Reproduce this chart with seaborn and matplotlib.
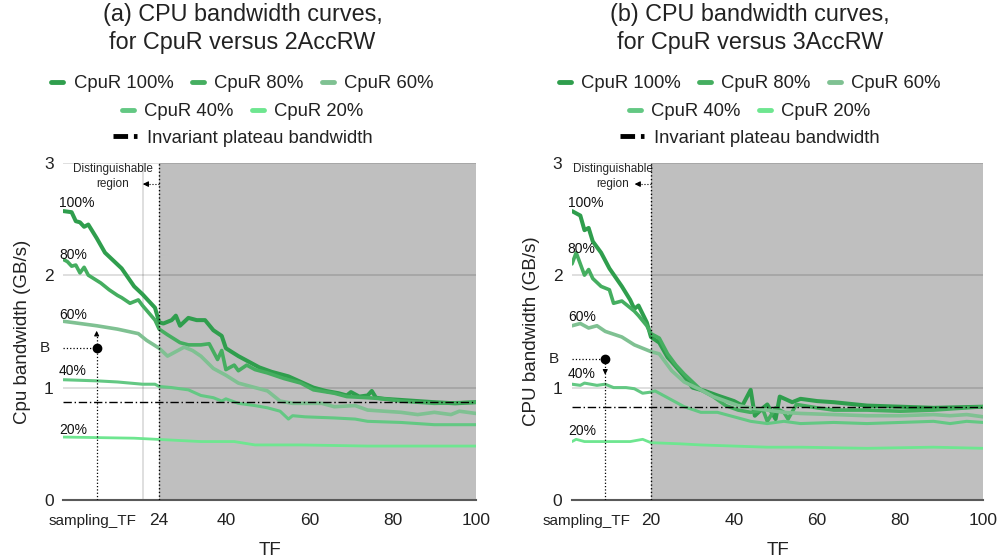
import numpy as np
import pandas as pd
import matplotlib
matplotlib.use("Agg")
import matplotlib.pyplot as plt
from matplotlib.lines import Line2D
import seaborn as sns

# ---- data (TF, bandwidth GB/s) ----
LEVELS = ["100%", "80%", "60%", "40%", "20%"]

# (a) CpuR versus 2AccRW
a_tf_100 = [1, 3, 4, 5, 6, 7, 9, 11, 15, 18, 20, 23, 24, 25, 27, 28, 29, 31, 33, 35, 37, 39, 40, 43, 45,
            48, 51, 55, 58, 61, 64, 67, 69, 70, 72, 74, 75, 76, 78, 82, 86, 90, 95, 100]
a_bw_100 = [2.57, 2.56, 2.48, 2.47, 2.43, 2.45, 2.33, 2.2, 2.06, 1.9, 1.83, 1.71, 1.58, 1.57, 1.6, 1.64,
            1.55, 1.62, 1.6, 1.6, 1.51, 1.46, 1.35, 1.28, 1.24, 1.18, 1.14, 1.1, 1.05, 1.0, 0.97, 0.95,
            0.93, 0.96, 0.92, 0.93, 0.97, 0.91, 0.9, 0.89, 0.88, 0.87, 0.86, 0.87]
a_tf_80 = [1, 2, 3, 4, 5, 6, 7, 10, 12, 14, 15, 17, 19, 20, 23, 24, 26, 29, 31, 34, 36, 38, 39, 40, 42,
           43, 45, 47, 50, 54, 58, 61, 66, 69, 74, 78, 82, 90, 100]
a_bw_80 = [2.14, 2.12, 2.08, 2.09, 2.02, 2.07, 2.0, 1.93, 1.87, 1.82, 1.8, 1.75, 1.78, 1.73, 1.6, 1.52,
           1.47, 1.4, 1.38, 1.38, 1.39, 1.25, 1.33, 1.16, 1.2, 1.15, 1.2, 1.16, 1.13, 1.08, 1.04, 0.98,
           0.95, 0.92, 0.91, 0.9, 0.88, 0.86, 0.87]
a_tf_60 = [1, 9, 14, 19, 21, 24, 26, 27, 30, 32, 34, 37, 40, 43, 47, 50, 53, 56, 59, 63, 66, 71, 74, 78,
           82, 86, 90, 94, 96, 100]
a_bw_60 = [1.59, 1.55, 1.52, 1.48, 1.42, 1.35, 1.28, 1.3, 1.36, 1.33, 1.28, 1.17, 1.11, 1.04, 1.0, 0.97,
           0.88, 0.86, 0.86, 0.86, 0.83, 0.84, 0.8, 0.79, 0.78, 0.76, 0.78, 0.76, 0.79, 0.77]
a_tf_40 = [1, 9, 14, 20, 23, 24, 27, 31, 34, 37, 39, 40, 43, 47, 50, 53, 55, 56, 59, 66, 71, 74, 82, 90, 100]
a_bw_40 = [1.07, 1.06, 1.05, 1.03, 1.03, 1.01, 1.0, 0.98, 0.93, 0.91, 0.88, 0.9, 0.86, 0.84, 0.82, 0.79,
           0.72, 0.75, 0.74, 0.73, 0.72, 0.7, 0.69, 0.67, 0.67]
a_tf_20 = [1, 18, 34, 42, 47, 58, 74, 90, 100]
a_bw_20 = [0.56, 0.55, 0.52, 0.52, 0.49, 0.49, 0.48, 0.48, 0.48]

# (b) CpuR versus 3AccRW
b_tf_100 = [1, 3, 4, 5, 6, 8, 10, 13, 15, 16, 17, 19, 20, 22, 24, 25, 28, 30, 33, 36, 40, 42, 44, 45, 47,
            48, 50, 51, 54, 56, 60, 64, 72, 80, 88, 100]
b_bw_100 = [2.57, 2.53, 2.4, 2.42, 2.3, 2.2, 2.06, 1.9, 1.78, 1.7, 1.73, 1.58, 1.45, 1.4, 1.27, 1.23, 1.1,
            1.0, 0.97, 0.93, 0.88, 0.84, 0.98, 0.75, 0.82, 0.85, 0.72, 0.92, 0.87, 0.9, 0.88, 0.87, 0.84,
            0.83, 0.82, 0.83]
b_tf_80 = [1, 2, 4, 5, 6, 8, 10, 11, 13, 16, 17, 19, 20, 22, 24, 26, 28, 32, 35, 38, 41, 44, 47, 48, 50,
           52, 53, 55, 60, 64, 72, 80, 88, 96, 100]
b_bw_80 = [2.1, 2.2, 2.0, 2.05, 1.97, 1.9, 1.87, 1.75, 1.77, 1.68, 1.64, 1.55, 1.48, 1.44, 1.3, 1.2, 1.12,
           0.98, 0.92, 0.84, 0.8, 0.78, 0.8, 0.7, 0.82, 0.78, 0.72, 0.85, 0.82, 0.8, 0.8, 0.79, 0.8, 0.82,
           0.83]
b_tf_60 = [1, 3, 5, 7, 9, 13, 16, 18, 20, 22, 25, 28, 32, 35, 38, 41, 44, 48, 52, 56, 64, 72, 80, 88, 92,
           96, 100]
b_bw_60 = [1.55, 1.57, 1.53, 1.55, 1.5, 1.45, 1.38, 1.35, 1.32, 1.3, 1.15, 1.05, 0.98, 0.92, 0.88, 0.84,
           0.82, 0.8, 0.78, 0.77, 0.76, 0.75, 0.75, 0.76, 0.75, 0.76, 0.74]
b_tf_40 = [1, 3, 4, 7, 9, 11, 14, 16, 18, 20, 21, 24, 28, 32, 36, 40, 44, 48, 52, 56, 64, 72, 80, 88, 92,
           96, 100]
b_bw_40 = [1.03, 1.02, 1.04, 1.02, 1.03, 1.0, 1.0, 0.99, 0.95, 0.96, 0.97, 0.91, 0.83, 0.78, 0.78, 0.74,
           0.7, 0.68, 0.7, 0.68, 0.69, 0.68, 0.69, 0.7, 0.68, 0.7, 0.69]
b_tf_20 = [1, 2, 4, 15, 18, 20, 27, 32, 40, 48, 56, 72, 88, 100]
b_bw_20 = [0.52, 0.54, 0.52, 0.52, 0.54, 0.51, 0.5, 0.49, 0.48, 0.47, 0.47, 0.46, 0.47, 0.46]

a_plateau = 0.87
b_plateau = 0.825
a_split_tf = 24
b_split_tf = 20
sampling_tf = 9
a_b_value, a_b_target = 1.355, 1.53
b_b_value, b_b_target = 1.25, 1.06

a_xticks = [24, 40, 60, 80, 100]
b_xticks = [20, 40, 60, 80, 100]

COLORS = {"100%": "#2f9e4d", "80%": "#45ae60", "60%": "#7fc192", "40%": "#63c883", "20%": "#6ee690"}
WIDTHS = {"100%": 2.9, "80%": 2.6, "60%": 2.6, "40%": 2.2, "20%": 2.0}


def to_frame(tfs, bws):
    parts = []
    for lvl, tf, bw in zip(LEVELS, tfs, bws):
        parts.append(pd.DataFrame({"TF": tf, "bw": bw, "level": lvl}))
    return pd.concat(parts, ignore_index=True)


df_a = to_frame([a_tf_100, a_tf_80, a_tf_60, a_tf_40, a_tf_20],
                [a_bw_100, a_bw_80, a_bw_60, a_bw_40, a_bw_20])
df_b = to_frame([b_tf_100, b_tf_80, b_tf_60, b_tf_40, b_tf_20],
                [b_bw_100, b_bw_80, b_bw_60, b_bw_40, b_bw_20])

sns.set_style("white")
plt.rcParams["font.family"] = ["Liberation Sans", "DejaVu Sans"]

fig = plt.figure(figsize=(10.03, 5.59), dpi=100)
ax_a = fig.add_axes([0.0631, 0.1055, 0.4115, 0.6034])
ax_b = fig.add_axes([0.5703, 0.1055, 0.4101, 0.6034])


def draw_panel(ax, df, split_tf, plateau, xticks, ylabel, b_val, b_target, label_ys, samp_x):
    ax.axvspan(split_tf, 100, color="#bfbfbf", zorder=0.2, lw=0)
    for lvl in LEVELS:
        sns.lineplot(data=df[df["level"] == lvl], x="TF", y="bw", ax=ax, color=COLORS[lvl],
                     lw=WIDTHS[lvl], sort=False, estimator=None, legend=False, zorder=3)
    ax.plot([1, 100], [plateau, plateau], color="black", lw=1.0,
            linestyle=(0, (6, 2, 1, 2)), zorder=4)

    ax.set_xlim(1, 100)
    ax.set_ylim(0, 3)
    ax.set_yticks([0, 1, 2, 3])
    ax.set_xticks(xticks)
    ax.set_xticks([20, 40, 60, 80, 100], minor=True)
    ax.grid(False)
    ax.grid(True, which="minor", axis="x", color="black", alpha=0.15, lw=1.2)
    ax.grid(True, which="major", axis="y", color="black", alpha=0.15, lw=1.2)
    ax.set_axisbelow(True)
    ax.tick_params(axis="both", which="both", length=0, labelsize=12.5, colors="#222222")
    ax.tick_params(axis="y", pad=7)
    ax.tick_params(axis="x", pad=9)
    for s in ["top", "right", "left"]:
        ax.spines[s].set_visible(False)
    ax.spines["bottom"].set_color("#595959")
    ax.spines["bottom"].set_linewidth(1.5)
    ax.set_xlabel("TF", fontsize=13.5, labelpad=10.5, color="#222222")
    ax.set_ylabel(ylabel, fontsize=13.5, labelpad=9, color="#222222")

    ax.text(samp_x, -0.063, "sampling_TF", transform=ax.get_xaxis_transform(),
            ha="center", va="center", fontsize=11, color="#222222")

    # distinguishable region boundary
    ax.plot([split_tf, split_tf], [0, 3], color="black", lw=1.0, linestyle=":", zorder=4)
    mid = (split_tf - 1) / 2 + 1.3
    ax.text(mid, 2.945, "Distinguishable", ha="center", va="center", fontsize=8.5)
    ax.text(mid, 2.81, "region", ha="center", va="center", fontsize=8.5)
    ax.plot([split_tf - 2.5, split_tf], [2.81, 2.81], color="black", lw=0.8, linestyle=":")
    ax.annotate("", xy=(split_tf - 4.6, 2.81), xytext=(split_tf - 2.4, 2.81),
                arrowprops=dict(arrowstyle="-|>", color="black", lw=0.8, mutation_scale=8))

    # curve labels
    for lvl, y in zip(LEVELS, label_ys):
        ax.text(0.0, y, lvl, ha="left", va="center", fontsize=10, color="#111111", clip_on=False)

    # sampling point B
    ax.plot([1, sampling_tf], [b_val, b_val], color="black", lw=0.9, linestyle=":", zorder=5)
    ax.plot([sampling_tf], [b_val], "o", color="black", ms=6, zorder=6)
    ax.text(-2.2, b_val, "B", ha="right", va="center", fontsize=11, color="#222222")
    if b_target > b_val:
        ax.plot([sampling_tf, sampling_tf], [0, b_target - 0.06], color="black", lw=0.9,
                linestyle=":", zorder=5)
        ax.annotate("", xy=(sampling_tf, b_target), xytext=(sampling_tf, b_target - 0.08),
                    arrowprops=dict(arrowstyle="-|>", color="black", lw=0.8, mutation_scale=7))
    else:
        ax.plot([sampling_tf, sampling_tf], [0, b_val], color="black", lw=0.9,
                linestyle=":", zorder=5)
        ax.annotate("", xy=(sampling_tf, b_target + 0.03), xytext=(sampling_tf, b_target + 0.12),
                    arrowprops=dict(arrowstyle="-|>", color="black", lw=0.8, mutation_scale=7))


draw_panel(ax_a, df_a, a_split_tf, a_plateau, a_xticks, "Cpu bandwidth (GB/s)",
           a_b_value, a_b_target, [2.64, 2.18, 1.65, 1.15, 0.62], 8.0)
draw_panel(ax_b, df_b, b_split_tf, b_plateau, b_xticks, "CPU bandwidth (GB/s)",
           b_b_value, b_b_target, [2.64, 2.23, 1.63, 1.12, 0.61], 4.5)

ax_a.set_xticklabels([str(t) for t in a_xticks])
ax_b.set_xticklabels([str(t) for t in b_xticks])

# titles and legends
for cx, title in [(0.2418, "(a) CPU bandwidth curves,\nfor CpuR versus 2AccRW"),
                  (0.7475, "(b) CPU bandwidth curves,\nfor CpuR versus 3AccRW")]:
    fig.text(cx, 0.949, title, ha="center", va="center", fontsize=16.8,
             linespacing=1.3, color="#222222")
    handles = [Line2D([], [], color=COLORS[l], lw=3.5) for l in LEVELS]
    labels = ["CpuR " + l for l in LEVELS]
    common = dict(frameon=False, fontsize=13.3, handlelength=0.65, handletextpad=0.55,
                  columnspacing=1.0, loc="center", bbox_transform=fig.transFigure,
                  borderpad=0, labelcolor="#222222")
    leg1 = fig.legend(handles[:3], labels[:3], ncol=3, bbox_to_anchor=(cx, 0.850), **common)
    leg2 = fig.legend(handles[3:], labels[3:], ncol=2, bbox_to_anchor=(cx, 0.800), **common)
    h3 = Line2D([], [], color="black", lw=3.5, linestyle=(0, (3, 1.2, 1, 1.2)))
    leg3 = fig.legend([h3], ["Invariant plateau bandwidth"], ncol=1,
                      bbox_to_anchor=(cx, 0.753), **dict(common, handlelength=1.3))

fig.savefig("out.png", dpi=100)
